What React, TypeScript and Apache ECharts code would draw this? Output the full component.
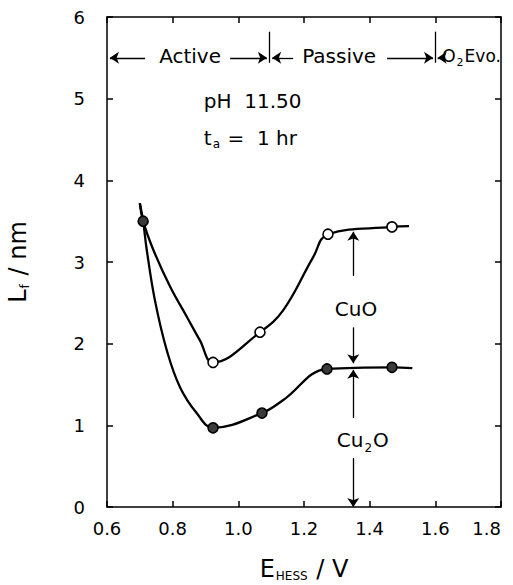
import React, { useEffect, useRef } from 'react';
import * as echarts from 'echarts';

// ---- values ----
const upperCurveX = [0.70, 0.71, 0.741, 0.792, 0.843, 0.883, 0.923, 1.066, 1.137, 1.228, 1.273, 1.468, 1.52];
const upperCurveY = [3.72, 3.50, 3.15, 2.70, 2.33, 2.04, 1.77, 2.14, 2.41, 3.06, 3.34, 3.43, 3.44];
const lowerCurveX = [0.70, 0.71, 0.721, 0.746, 0.782, 0.822, 0.873, 0.923, 1.072, 1.137, 1.27, 1.468, 1.53];
const lowerCurveY = [3.72, 3.50, 3.15, 2.53, 1.92, 1.47, 1.15, 0.97, 1.15, 1.31, 1.69, 1.71, 1.70];
const openPointsX = [0.923, 1.066, 1.273, 1.468];
const openPointsY = [1.77, 2.14, 3.34, 3.43];
const filledPointsX = [0.71, 0.923, 1.072, 1.27, 1.468];
const filledPointsY = [3.50, 0.97, 1.15, 1.69, 1.71];
const xTickLabels = ['0.6', '0.8', '1.0', '1.2', '1.4', '1.6', '1.8'];
const yTickLabels = ['0', '1', '2', '3', '4', '5', '6'];
const regionBoundaries = [1.095, 1.6];
const oxideArrowX = 1.35;

const FONT = 'DejaVu Sans';

const zip = (xs: number[], ys: number[]) => xs.map((x, i) => [x, ys[i]]);

export default function App() {
  const ref = useRef<HTMLDivElement>(null);
  useEffect(() => {
    if (!ref.current) return;
    const chart = echarts.init(ref.current, undefined, { renderer: 'svg' });
    const sub = (size: number, subSize: number, drop: number) => ({
      m: { fontSize: size, fontFamily: FONT, color: '#000', verticalAlign: 'top', lineHeight: size + 4 },
      s: { fontSize: subSize, fontFamily: FONT, color: '#000', verticalAlign: 'top', lineHeight: subSize, padding: [drop, 1, 0, 1] },
    });
    const arrowSeg = (x1: number, y1: number, x2: number, y2: number) => [
      { coord: [x1, y1] },
      { coord: [x2, y2] },
    ];
    const axisCommon = {
      type: 'value' as const,
      axisLine: { show: true, onZero: false, lineStyle: { color: '#000', width: 1.5 } },
      axisTick: { show: true, inside: true, length: 6, lineStyle: { color: '#000', width: 1.5 } },
      splitLine: { show: false },
    };
    const curveStyle = {
      type: 'line',
      smooth: 0.4,
      showSymbol: false,
      symbol: 'none',
      lineStyle: { color: '#000', width: 2.3 },
      z: 2,
    };
    const option: any = {
      animation: false,
      backgroundColor: '#fff',
      grid: { left: 107, right: 12, top: 17, bottom: 78, containLabel: false, outerBoundsMode: 'none' },
      xAxis: [
        {
          ...axisCommon,
          position: 'bottom',
          min: 0.6,
          max: 1.8,
          interval: 0.2,
          axisLabel: {
            fontFamily: FONT,
            fontSize: 18,
            color: '#000',
            margin: 12,
            showMaxLabel: true,
            alignMaxLabel: 'right',
            formatter: (v: number) => xTickLabels[Math.round((v - 0.6) / 0.2)] ?? '',
          },
          name: '{m|E}{s|HESS}{m| / V}',
          nameLocation: 'middle',
          nameGap: 50,
          nameTextStyle: { rich: sub(24, 12, 13) },
        },
        {
          ...axisCommon,
          position: 'top',
          min: 0.6,
          max: 1.8,
          interval: 0.2,
          axisLabel: { show: false },
        },
      ],
      yAxis: [
        {
          ...axisCommon,
          position: 'left',
          min: 0,
          max: 6,
          interval: 1,
          axisLabel: {
            fontFamily: FONT,
            fontSize: 18,
            color: '#000',
            margin: 22,
            formatter: (v: number) => yTickLabels[Math.round(v)] ?? '',
          },
          name: '{m|L}{s|f}{m| / nm}',
          nameLocation: 'middle',
          nameRotate: 90,
          nameGap: 73,
          nameTextStyle: { rich: sub(24, 12, 13) },
        },
        {
          ...axisCommon,
          position: 'right',
          min: 0,
          max: 6,
          interval: 1,
          axisLabel: { show: false },
        },
      ],
      series: [
        { ...curveStyle, data: zip(upperCurveX, upperCurveY) },
        { ...curveStyle, data: zip(lowerCurveX, lowerCurveY) },
        {
          type: 'scatter',
          data: zip(openPointsX, openPointsY),
          symbol: 'circle',
          symbolSize: 10,
          itemStyle: { color: '#fff', borderColor: '#000', borderWidth: 1.6, opacity: 1 },
          z: 4,
        },
        {
          type: 'scatter',
          data: zip(filledPointsX, filledPointsY),
          symbol: 'circle',
          symbolSize: 10,
          itemStyle: { color: '#3a3a3a', borderColor: '#000', borderWidth: 1.6, opacity: 1 },
          z: 4,
          markLine: {
            silent: true,
            symbol: ['none', 'arrow'],
            symbolSize: 9,
            label: { show: false },
            lineStyle: { color: '#000', width: 1.3, type: 'solid' },
            data: [
              arrowSeg(0.716, 5.5, 0.609, 5.5),
              arrowSeg(0.975, 5.5, 1.087, 5.5),
              arrowSeg(1.167, 5.5, 1.103, 5.5),
              arrowSeg(1.453, 5.5, 1.593, 5.5),
              arrowSeg(1.625, 5.5, 1.607, 5.5),
              arrowSeg(oxideArrowX, 2.83, oxideArrowX, 3.37),
              arrowSeg(oxideArrowX, 2.2, oxideArrowX, 1.76),
              arrowSeg(oxideArrowX, 1.09, oxideArrowX, 1.68),
              arrowSeg(oxideArrowX, 0.6, oxideArrowX, 0.0),
            ],
          },
        },
        {
          type: 'line',
          data: [],
          markLine: {
            silent: true,
            symbol: ['none', 'none'],
            label: { show: false },
            lineStyle: { color: '#000', width: 1.3, type: 'solid' },
            data: regionBoundaries.map((b) => arrowSeg(b, 5.44, b, 5.82)),
          },
        },
      ],
    };
    chart.setOption(option);

    const px = (x: number, y: number) => chart.convertToPixel({ xAxisIndex: 0, yAxisIndex: 0 }, [x, y]) as number[];
    const txt = (x: number, y: number, text: string, size: number, align: string, subSize = 12, drop = 12) => {
      const p = px(x, y);
      return {
        type: 'text',
        x: p[0],
        y: p[1],
        style: {
          text,
          fontFamily: FONT,
          fontSize: size,
          fill: '#000',
          align,
          verticalAlign: 'middle',
          rich: sub(size, subSize, drop),
        },
        z: 10,
      };
    };
    chart.setOption({
      graphic: [
        txt(0.853, 5.5, '{m|Active}', 20, 'center'),
        txt(1.307, 5.5, '{m|Passive}', 20, 'center'),
        txt(1.621, 5.5, '{m|O}{s|2}{m|Evo.}', 17, 'left', 11, 10),
        txt(0.895, 4.95, '{m|pH  11.50}', 20, 'left'),
        txt(0.895, 4.49, '{m|t}{s|a}{m| =  1 hr}', 20, 'left', 12, 10),
        txt(1.294, 2.4, '{m|CuO}', 20, 'left'),
        txt(1.3, 0.8, '{m|Cu}{s|2}{m|O}', 20, 'left'),
      ],
    });
    return () => chart.dispose();
  }, []);
  return <div ref={ref} style={{ position: 'fixed', left: 0, top: 0, width: 513, height: 585 }} />;
}
